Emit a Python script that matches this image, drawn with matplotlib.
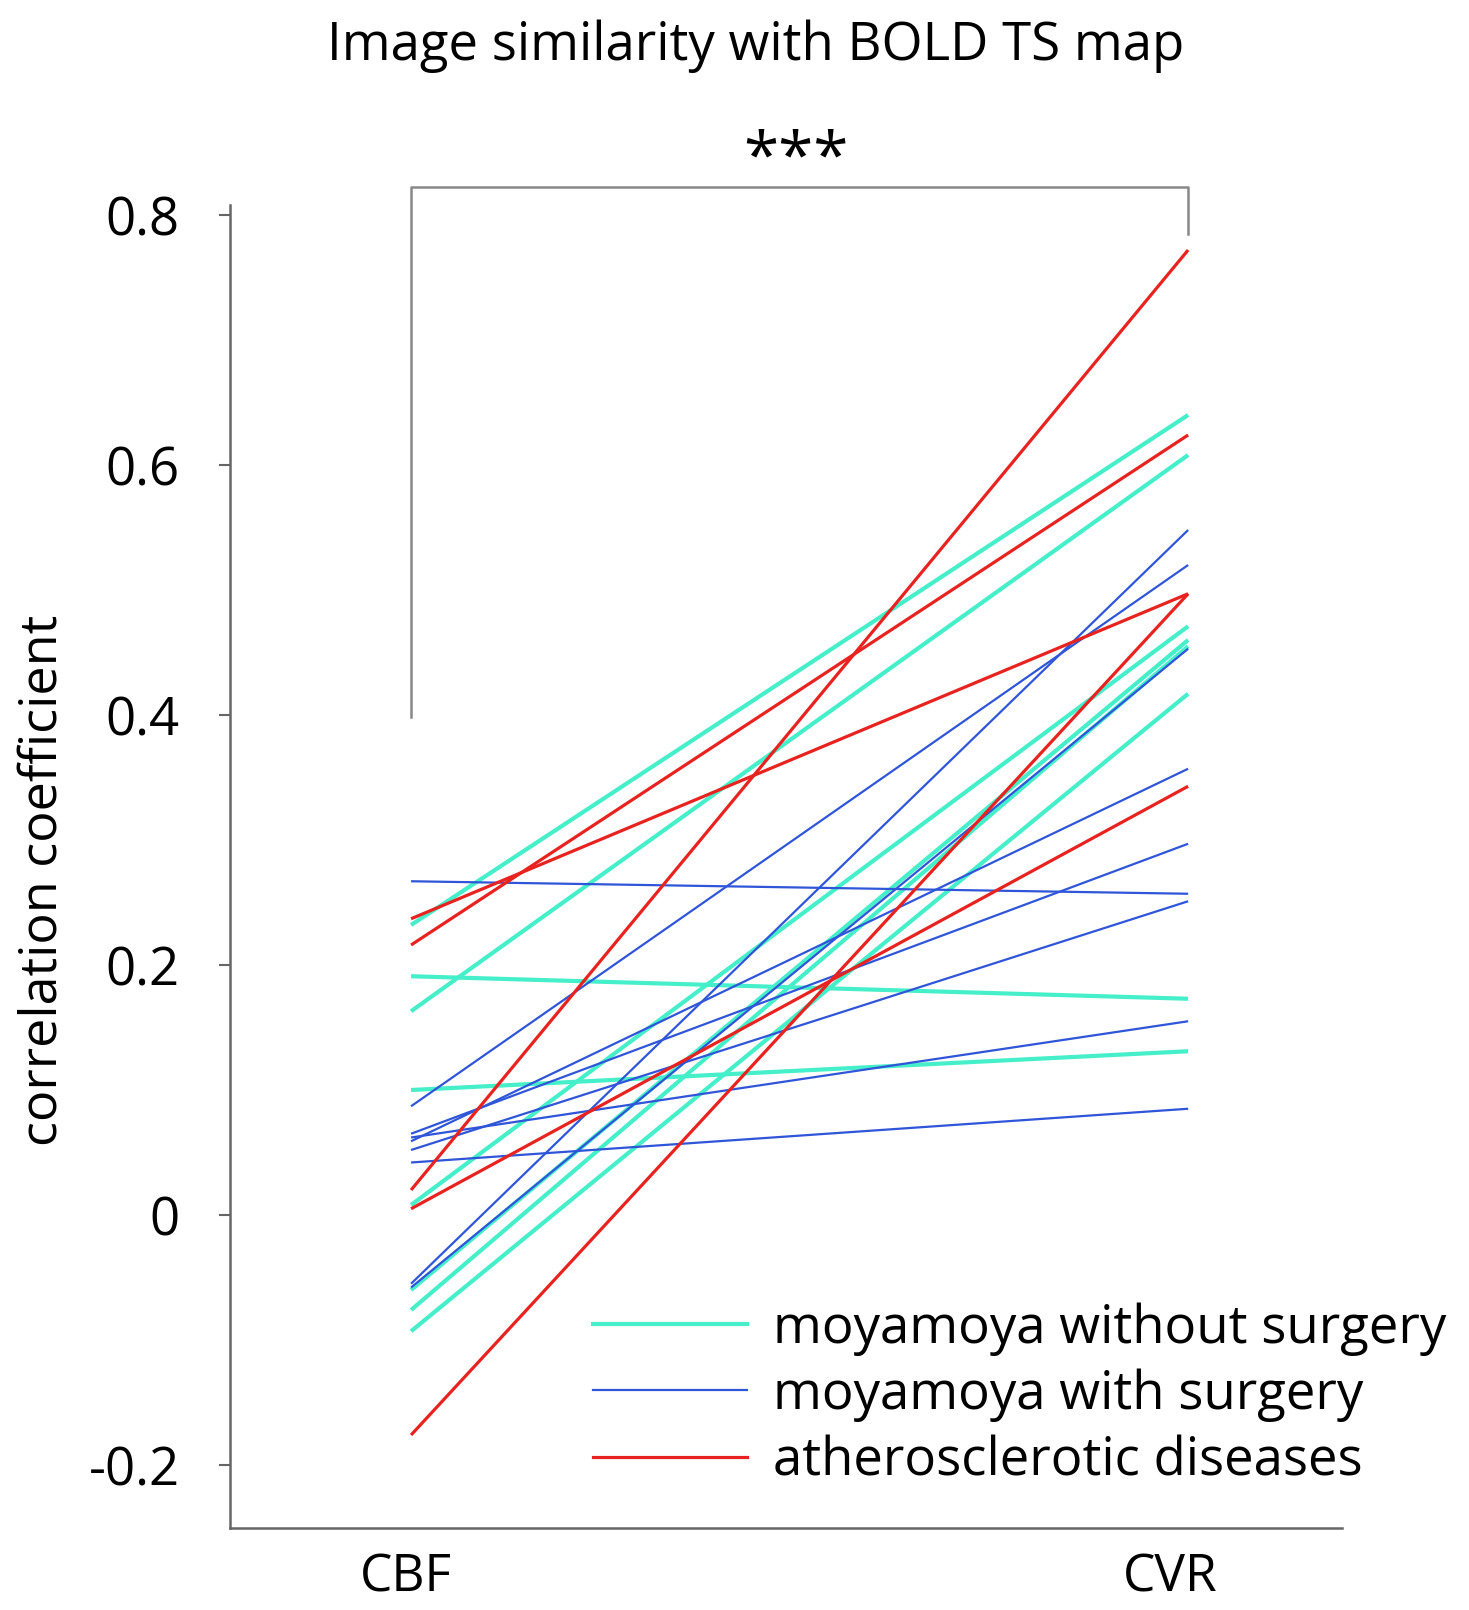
import matplotlib
matplotlib.use("Agg")
import matplotlib.pyplot as plt
import matplotlib.transforms as mtransforms
from matplotlib.lines import Line2D

plt.rcParams['font.family'] = ['Open Sans', 'DejaVu Sans']

conditions = ["CBF", "CVR"]
group_names = ["moyamoya without surgery", "moyamoya with surgery", "atherosclerotic diseases"]

# moyamoya without surgery (cyan)
cyan_cbf = [0.232, 0.191, 0.163, 0.100, 0.008, -0.060, -0.076, -0.093]
cyan_cvr = [0.640, 0.173, 0.608, 0.131, 0.471, 0.460, 0.455, 0.417]
# moyamoya with surgery (blue)
blue_cbf = [0.267, 0.087, 0.065, 0.062, 0.059, 0.052, 0.042, -0.055, -0.058]
blue_cvr = [0.257, 0.520, 0.297, 0.155, 0.357, 0.251, 0.085, 0.548, 0.453]
# atherosclerotic diseases (red)
red_cbf = [0.237, 0.216, 0.020, 0.005, -0.176]
red_cvr = [0.497, 0.624, 0.772, 0.343, 0.497]

yticks = [-0.2, 0, 0.2, 0.4, 0.6, 0.8]
ytick_labels = ["-0.2", "0", "0.2", "0.4", "0.6", "0.8"]

W, H = 1469, 1610
fig = plt.figure(figsize=(W / 100, H / 100), dpi=100)
ax = fig.add_axes([230 / W, 1 - 1527.5 / H, (1342 - 230) / W, (1527.5 - 152.5) / H])

styles = [
    (cyan_cbf, cyan_cvr, "#45EFC9", 3.0),
    (blue_cbf, blue_cvr, "#2F55D8", 1.6),
    (red_cbf, red_cvr, "#E8231F", 2.3),
]
handles = []
xpos = [0, 1]
for (cbf, cvr, col, lw), name in zip(styles, group_names):
    for a, b in zip(cbf, cvr):
        ax.plot(xpos, [a, b], color=col, lw=lw, solid_capstyle='butt')
    handles.append(Line2D([0], [0], color=col, lw=lw))

ax.set_xlim(-0.233, 1.198)
ax.set_ylim(-0.25, 0.85)

for s in ["top", "right"]:
    ax.spines[s].set_visible(False)
for s in ["left", "bottom"]:
    ax.spines[s].set_color("#666666")
    ax.spines[s].set_linewidth(1.8)
ax.spines["left"].set_bounds(-0.25, 0.808)

ax.set_yticks(yticks)
ax.set_yticklabels(ytick_labels)
ax.tick_params(axis='y', length=8, width=1.5, color="#666666", pad=28, labelsize=38)
ax.set_xticks(xpos)
ax.set_xticklabels(conditions)
ax.tick_params(axis='x', length=0, pad=18, labelsize=37)
# shift the tick labels slightly left, as in the reference
shifts = [-5, -18]
for lab, dx in zip(ax.get_xticklabels(), shifts):
    lab.set_transform(lab.get_transform() + mtransforms.ScaledTranslation(dx / 100, 0, fig.dpi_scale_trans))

# significance bracket
ax.plot([0, 0, 1, 1], [0.398, 0.822, 0.822, 0.785], color="#888888", lw=1.8, clip_on=False)
ax.text(0.495, 0.818, "***", ha='center', va='bottom', fontsize=46)

fig.text(756 / W, 1 - 46 / H, "Image similarity with BOLD TS map", ha='center', va='center', fontsize=38)
fig.text(43 / W, 1 - 880 / H, "correlation coefficient", ha='center', va='center', rotation=90, fontsize=37.5)

leg = ax.legend(handles, group_names, loc='upper left',
                bbox_to_anchor=(593 / W, 1 - 1302 / H), bbox_transform=fig.transFigure,
                frameon=False, fontsize=38, handlelength=2.92, handletextpad=0.49,
                labelspacing=0.245, borderpad=0, borderaxespad=0)

fig.savefig("out.png", dpi=100)
